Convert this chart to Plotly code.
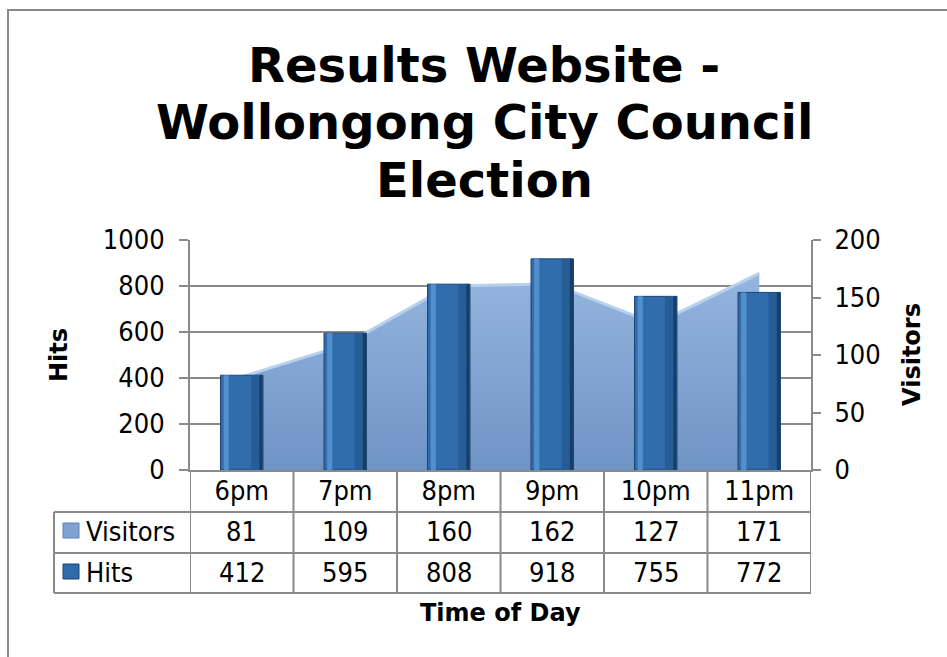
import plotly.graph_objects as go

# ---- data ----
times = ["6pm", "7pm", "8pm", "9pm", "10pm", "11pm"]
visitors = [81, 109, 160, 162, 127, 171]
hits = [412, 595, 808, 918, 755, 772]
title_lines = ["Results Website -", "Wollongong City Council", "Election"]
x_title = "Time of Day"
hits_title = "Hits"
visitors_title = "Visitors"

# ---- layout helpers (pixel -> paper) ----
W, H = 947, 657
L, R, T, B = 190, 811, 240, 470
def px(x):
    return (x - L) / (R - L)
def py(y):
    return (B - y) / (B - T)

GRAY = "#8a8a8a"
REG = "DejaVu Sans Condensed, DejaVu Sans"
BOLD = "DejaVu Sans"

fig = go.Figure()

# Visitors area (primary y, right side) - drawn behind bars
fig.add_trace(go.Scatter(
    x=times, y=visitors, name="Visitors", mode="lines",
    fill="tozeroy",
    line=dict(color="#b6d0ee", width=3),
    fillgradient=dict(type="vertical",
                      colorscale=[[0, "#7093c6"], [1, "#94b5de"]]),
    yaxis="y", showlegend=False, hoverinfo="skip",
))

# Hits bars (overlay axis, left side) with simple 3D shading strips
fig.add_trace(go.Bar(
    x=times, y=hits, name="Hits", yaxis="y2",
    width=0.41, offset=-0.205,
    marker=dict(color="#316dad", line=dict(color="#1c4470", width=1)),
    showlegend=False,
))
strips = [(-0.175, 0.05, "#5090cf"), (0.09, 0.09, "#265d97"), (0.17, 0.03, "#173e69")]
for off, wd, col in strips:
    fig.add_trace(go.Bar(
        x=times, y=hits, yaxis="y2", width=wd, offset=off,
        marker=dict(color=col, line=dict(width=0)),
        showlegend=False, hoverinfo="skip",
    ))

shapes = []
# outer chart border (top + left visible)
shapes.append(dict(type="rect", xref="paper", yref="paper",
                   x0=px(8), y0=py(10), x1=px(1100), y1=py(800),
                   line=dict(color=GRAY, width=2)))
# table lines
line = dict(color=GRAY, width=2)
for yy in (512, 553, 593):
    shapes.append(dict(type="line", xref="paper", yref="paper",
                       x0=px(54), x1=1, y0=py(yy), y1=py(yy), line=line))
shapes.append(dict(type="line", xref="paper", yref="paper",
                   x0=px(54), x1=px(54), y0=py(512), y1=py(593), line=line))
for i in range(len(times) + 1):
    shapes.append(dict(type="line", xref="x", yref="paper",
                       x0=i - 0.5, x1=i - 0.5, y0=0, y1=py(593), line=line))
# legend keys
shapes.append(dict(type="rect", xref="paper", yref="paper",
                   x0=px(63), x1=px(79), y0=py(538), y1=py(523),
                   fillcolor="#7fa2d0", line=dict(color="#5f82b5", width=1)))
shapes.append(dict(type="rect", xref="paper", yref="paper",
                   x0=px(63), x1=px(79), y0=py(579), y1=py(564),
                   fillcolor="#2f6aa9", line=dict(color="#1c4470", width=1)))

ann = []
title_y = [65, 122, 180]
for txt, yy in zip(title_lines, title_y):
    ann.append(dict(text="<b>%s</b>" % txt, xref="paper", yref="paper",
                    x=px(484), y=py(yy), xanchor="center", yanchor="middle",
                    showarrow=False, font=dict(family=BOLD, size=48, color="black")))
ann.append(dict(text="<b>%s</b>" % x_title, xref="paper", yref="paper",
                x=px(500), y=py(613), xanchor="center", yanchor="middle",
                showarrow=False, font=dict(family=BOLD, size=24, color="black")))
ann.append(dict(text="<b>%s</b>" % hits_title, xref="paper", yref="paper",
                x=px(59), y=0.5, textangle=-90, xanchor="center", yanchor="middle",
                showarrow=False, font=dict(family=BOLD, size=24, color="black")))
ann.append(dict(text="<b>%s</b>" % visitors_title, xref="paper", yref="paper",
                x=px(912), y=0.5, textangle=-90, xanchor="center", yanchor="middle",
                showarrow=False, font=dict(family=BOLD, size=24, color="black")))
# table row labels and values
for label, vals, yy in (("Visitors", visitors, 531), ("Hits", hits, 572)):
    ann.append(dict(text=label, xref="paper", yref="paper", x=px(84), y=py(yy),
                    xanchor="left", yanchor="middle", showarrow=False,
                    font=dict(family=REG, size=27, color="black")))
    for t, v in zip(times, vals):
        ann.append(dict(text=str(v), xref="x", yref="paper", x=t, y=py(yy),
                        xanchor="center", yanchor="middle", showarrow=False,
                        font=dict(family=REG, size=27, color="black")))

fig.update_layout(
    width=W, height=H,
    margin=dict(l=L, r=W - R, t=T, b=H - B, pad=0),
    paper_bgcolor="white", plot_bgcolor="white",
    barmode="overlay",
    xaxis=dict(type="category", range=[-0.5, 5.5], showline=True,
               linecolor=GRAY, linewidth=2, ticks="", showgrid=False,
               tickfont=dict(family=REG, size=27, color="black"),
               ticklabelstandoff=-4),
    yaxis=dict(side="right", range=[0, 200], dtick=50, showgrid=False,
               showline=True, linecolor=GRAY, linewidth=2,
               ticks="outside", ticklen=8, tickwidth=2, tickcolor=GRAY,
               tickfont=dict(family=REG, size=27, color="black"),
               ticklabelstandoff=8, zeroline=False),
    yaxis2=dict(overlaying="y", side="left", range=[0, 1000], dtick=200,
                showgrid=True, gridcolor=GRAY, gridwidth=2,
                showline=True, linecolor=GRAY, linewidth=2,
                ticks="outside", ticklen=9, tickwidth=2, tickcolor=GRAY,
                tickfont=dict(family=REG, size=27, color="black"),
                ticklabelstandoff=9, zeroline=False),
    shapes=shapes, annotations=ann,
)

fig.write_html("out.html", config={"displayModeBar": False},
               post_script="document.body.style.margin='0';document.body.style.overflow='hidden';")
